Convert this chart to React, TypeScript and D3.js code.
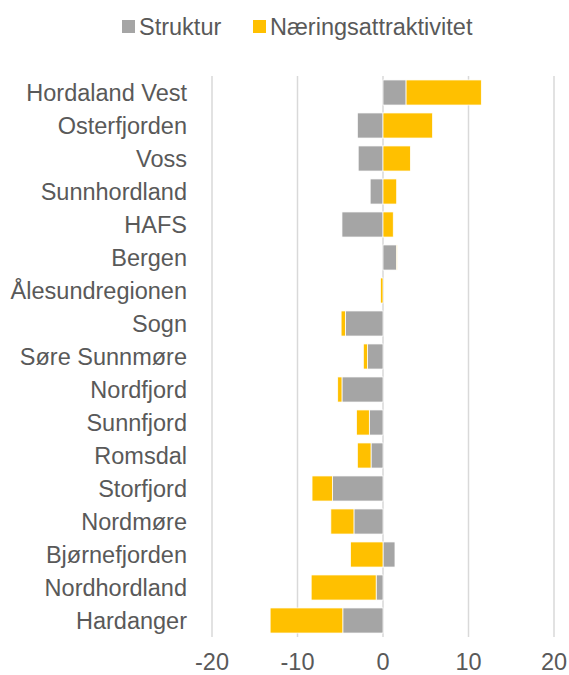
import React, { useRef, useEffect } from 'react';
import * as d3 from 'd3';

const regions = [
  'Hordaland Vest', 'Osterfjorden', 'Voss', 'Sunnhordland', 'HAFS', 'Bergen',
  'Ålesundregionen', 'Sogn', 'Søre Sunnmøre', 'Nordfjord', 'Sunnfjord', 'Romsdal',
  'Storfjord', 'Nordmøre', 'Bjørnefjorden', 'Nordhordland', 'Hardanger',
];
const struktur = [
  2.7, -3.0, -2.9, -1.5, -4.8, 1.6,
  0, -4.4, -1.8, -4.8, -1.6, -1.4,
  -5.9, -3.4, 1.4, -0.8, -4.7,
];
const naering = [
  8.8, 5.8, 3.2, 1.6, 1.2, 0.05,
  -0.3, -0.5, -0.5, -0.5, -1.5, -1.6,
  -2.4, -2.7, -3.8, -7.6, -8.5,
];
const xTicks = [-20, -10, 0, 10, 20];
const seriesNames = ['Struktur', 'Næringsattraktivitet'];
const colors = ['#A5A5A5', '#FFC000'];

function Chart() {
  const svgRef = useRef(null);

  useEffect(() => {
    const svg = d3.select(svgRef.current);
    svg.selectAll('*').remove();

    const width = 569;
    const height = 675;
    const margin = { top: 76, right: 15, bottom: 38, left: 212 };
    const font = '"Liberation Sans", Arial, sans-serif';
    const fontSize = 23.5;
    const textColor = '#595959';

    const rows = regions.map((r, i) => ({ region: r, s: struktur[i], n: naering[i] }));

    const x = d3.scaleLinear()
      .domain([-20, 20])
      .range([margin.left, width - margin.right]);

    const y = d3.scaleBand()
      .domain(regions)
      .range([margin.top, height - margin.bottom])
      .paddingInner(0.24)
      .paddingOuter(0.12);

    // Grid lines
    svg.append('g')
      .selectAll('line')
      .data(xTicks)
      .enter()
      .append('line')
      .attr('x1', d => x(d))
      .attr('x2', d => x(d))
      .attr('y1', margin.top)
      .attr('y2', height - margin.bottom)
      .attr('stroke', '#D9D9D9')
      .attr('stroke-width', 1.5);

    // Diverging stacked bars
    const stack = d3.stack()
      .keys(['s', 'n'])
      .offset(d3.stackOffsetDiverging);
    const series = stack(rows);

    series.forEach((layer, li) => {
      svg.append('g')
        .selectAll('rect')
        .data(layer)
        .enter()
        .append('rect')
        .attr('x', d => x(Math.min(d[0], d[1])))
        .attr('width', d => Math.abs(x(d[1]) - x(d[0])))
        .attr('y', d => y(d.data.region))
        .attr('height', y.bandwidth())
        .attr('fill', colors[li])
        .attr('stroke', '#fff')
        .attr('stroke-width', 0.75);
    });

    // Category labels
    svg.append('g')
      .selectAll('text')
      .data(regions)
      .enter()
      .append('text')
      .attr('x', 187)
      .attr('y', d => y(d) + y.bandwidth() / 2)
      .attr('dy', '0.35em')
      .attr('text-anchor', 'end')
      .attr('font-family', font)
      .attr('font-size', fontSize)
      .attr('fill', textColor)
      .text(d => d);

    // X tick labels
    svg.append('g')
      .selectAll('text')
      .data(xTicks)
      .enter()
      .append('text')
      .attr('x', d => x(d))
      .attr('y', 670)
      .attr('text-anchor', 'middle')
      .attr('font-family', font)
      .attr('font-size', fontSize)
      .attr('fill', textColor)
      .text(d => d);

    // Legend
    const legendX = [122, 253];
    seriesNames.forEach((name, i) => {
      svg.append('rect')
        .attr('x', legendX[i])
        .attr('y', 20)
        .attr('width', 13)
        .attr('height', 13)
        .attr('fill', colors[i]);
      svg.append('text')
        .attr('x', legendX[i] + 17)
        .attr('y', 27)
        .attr('dy', '0.35em')
        .attr('font-family', font)
        .attr('font-size', fontSize)
        .attr('fill', textColor)
        .text(name);
    });
  }, []);

  return (
    <svg
      ref={svgRef}
      width={569}
      height={675}
      style={{ position: 'absolute', left: 0, top: 0, background: '#fff' }}
    />
  );
}

export default function App() {
  return <Chart />;
}
